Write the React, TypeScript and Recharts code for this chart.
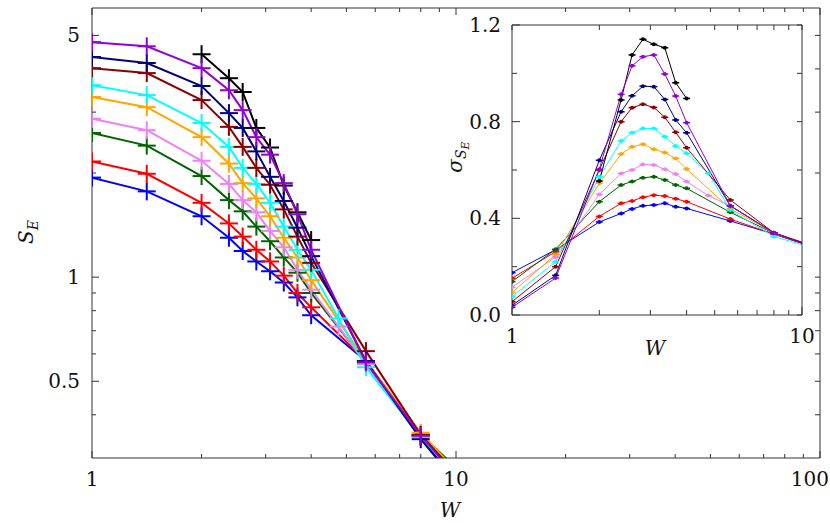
import { LineChart, Line, XAxis, YAxis } from 'recharts';

const FONT = 'DejaVu Serif';
const FRAME = '#333';

// disorder strengths W = 2^(k/8)
const W_VALUES = [1, 1.414, 2, 2.378, 2.594, 2.828, 3.084, 3.364, 3.668, 4, 4.757, 5.657, 8, 11.31];

const COLORS = ['#0000ff', '#ff0000', '#006400', '#ee82ee', '#ffa500', '#00ffff', '#8b0000', '#000080', '#000000', '#9400d3'];

// main panel: S_E (null = no point at that W)
const SE_BLUE = [1.94, 1.77, 1.5, 1.3, 1.19, 1.11, 1.04, 0.965, 0.874, 0.776, null, 0.572, 0.345, 0.22];
const SE_RED = [2.16, 1.99, 1.64, 1.43, 1.31, 1.2, 1.11, 1.01, 0.9, 0.818, null, 0.572, 0.348, 0.23];
const SE_GREEN = [2.61, 2.4, 1.96, 1.67, 1.55, 1.4, 1.27, 1.14, 1.03, 0.9, null, 0.567, 0.35, 0.25];
const SE_PINK = [2.87, 2.66, 2.17, 1.86, 1.67, 1.54, 1.36, 1.22, 1.05, 0.92, 0.72, 0.56, 0.348, 0.235];
const SE_ORANGE = [3.32, 3.1, 2.54, 2.13, 1.87, 1.69, 1.5, 1.3, 1.14, 0.98, null, 0.572, 0.355, 0.24];
const SE_CYAN = [3.59, 3.36, 2.79, 2.38, 2.07, 1.86, 1.64, 1.4, 1.2, 1.05, 0.76, 0.549, 0.345, 0.23];
const SE_DARKRED = [4.02, 3.89, 3.25, 2.72, 2.38, 2.07, 1.85, 1.57, 1.31, 1.1, null, 0.611, 0.35, 0.235];
const SE_NAVY = [4.33, 4.16, 3.57, 2.98, 2.7, 2.31, 1.95, 1.66, 1.39, 1.15, null, 0.572, 0.34, 0.22];
const SE_BLACK = [null, null, 4.41, 3.76, 3.43, 2.7, 2.37, 1.84, 1.54, 1.28, null, null, null, null];
const SE_PURPLE = [4.78, 4.65, 4.02, 3.47, 3.04, 2.54, 2.26, 1.87, 1.52, 1.2, null, 0.567, 0.348, 0.23];

// inset: sigma of S_E
const SIG_BLUE = [0.175, 0.27, 0.385, 0.42, 0.439, 0.452, 0.455, 0.462, 0.448, 0.441, null, 0.389, 0.335, 0.275];
const SIG_RED = [0.152, 0.262, 0.408, 0.462, 0.472, 0.487, 0.496, 0.492, 0.481, 0.469, null, 0.397, 0.335, 0.275];
const SIG_GREEN = [0.138, 0.272, 0.469, 0.538, 0.552, 0.568, 0.572, 0.559, 0.538, 0.524, null, 0.425, 0.338, 0.278];
const SIG_PINK = [0.115, 0.24, 0.499, 0.586, 0.6, 0.623, 0.621, 0.603, 0.583, 0.552, 0.494, 0.452, 0.338, 0.278];
const SIG_ORANGE = [0.093, 0.25, 0.545, 0.666, 0.696, 0.707, 0.686, 0.672, 0.648, 0.604, null, 0.44, 0.34, 0.28];
const SIG_CYAN = [0.076, 0.22, 0.572, 0.72, 0.754, 0.772, 0.772, 0.738, 0.699, 0.669, 0.586, 0.434, 0.325, 0.272];
const SIG_DARKRED = [0.055, 0.2, 0.6, 0.8, 0.858, 0.872, 0.859, 0.818, 0.756, 0.692, null, 0.476, 0.34, 0.28];
const SIG_NAVY = [0.04, 0.164, 0.64, 0.841, 0.907, 0.947, 0.945, 0.892, 0.807, 0.754, null, 0.452, 0.34, 0.275];
const SIG_BLACK = [null, null, 0.554, 0.89, 1.076, 1.141, 1.12, 1.106, 0.961, 0.896, null, null, null, null];
const SIG_PURPLE = [0.032, 0.153, 0.603, 0.913, 1.031, 1.069, 1.076, 0.997, 0.906, 0.796, null, 0.452, 0.34, 0.275];

const SE_SERIES = [SE_BLUE, SE_RED, SE_GREEN, SE_PINK, SE_ORANGE, SE_CYAN, SE_DARKRED, SE_NAVY, SE_BLACK, SE_PURPLE];
const SIG_SERIES = [SIG_BLUE, SIG_RED, SIG_GREEN, SIG_PINK, SIG_ORANGE, SIG_CYAN, SIG_DARKRED, SIG_NAVY, SIG_BLACK, SIG_PURPLE];

const MAIN_X_TICKS = [1, 2, 3, 4, 5, 6, 7, 8, 9, 10, 20, 30, 40, 50, 60, 70, 80, 90, 100];
const MAIN_X_LABELS = [1, 10, 100];
const MAIN_Y_TICKS = [0.4, 0.5, 0.6, 0.7, 0.8, 0.9, 1, 2, 3, 4, 5];
const MAIN_Y_LABELS = [0.5, 1, 5];
const INSET_X_TICKS = [1, 2, 3, 4, 5, 6, 7, 8, 9, 10];
const INSET_X_LABELS = [1, 10];
const INSET_Y_TICKS = [0, 0.2, 0.4, 0.6, 0.8, 1.0, 1.2];
const INSET_Y_LABELS = [0, 0.4, 0.8, 1.2];

const toPoints = (vals: (number | null)[]) =>
  W_VALUES.map((w, i) => ({ w, v: vals[i] })).filter((p) => p.v != null);

const PlusDot = ({ cx, cy, c }: any) => {
  if (cx == null || cy == null) return null;
  return (
    <g>
      <line x1={cx - 9} x2={cx + 9} y1={cy} y2={cy} stroke={c} strokeWidth={2} />
      <line x1={cx} x2={cx} y1={cy - 9} y2={cy + 9} stroke={c} strokeWidth={2} />
    </g>
  );
};

const SmallDot = ({ cx, cy, c }: any) => {
  if (cx == null || cy == null) return null;
  return (
    <g>
      <line x1={cx - 3.5} x2={cx + 3.5} y1={cy} y2={cy} stroke={c} strokeWidth={1.5} />
      <circle cx={cx} cy={cy} r={2} fill={c} />
    </g>
  );
};

const txtStyle = { fontFamily: FONT, fontSize: 20 };

// tick marks point into the plot; labels only on the major values
const BottomTick = ({ x, y, payload, major, len, fmt, lastEnd }: any) => {
  const isMajor = major.includes(payload.value);
  const atEnd = lastEnd && payload.value === major[major.length - 1];
  return (
    <g>
      <line x1={x} x2={x} y1={y} y2={y - (isMajor ? len + 3 : len)} stroke={FRAME} />
      {isMajor && (
        <text
          x={atEnd ? lastEnd : x}
          y={y + 28}
          textAnchor={atEnd ? 'end' : 'middle'}
          fill="#111"
          style={txtStyle}
        >
          {fmt(payload.value)}
        </text>
      )}
    </g>
  );
};

const TopTick = ({ x, y, payload, major, len }: any) => {
  const isMajor = major.includes(payload.value);
  return <line x1={x} x2={x} y1={y} y2={y + (isMajor ? len + 3 : len)} stroke={FRAME} />;
};

const LeftTick = ({ x, y, payload, major, len, fmt, gap }: any) => {
  const isMajor = major.includes(payload.value);
  return (
    <g>
      <line x1={x} x2={x + (isMajor ? len + 3 : len)} y1={y} y2={y} stroke={FRAME} />
      {isMajor && (
        <text x={x - gap} y={y + 7} textAnchor="end" fill="#111" style={txtStyle}>
          {fmt(payload.value)}
        </text>
      )}
    </g>
  );
};

const RightTick = ({ x, y, len }: any) => <line x1={x} x2={x - len} y1={y} y2={y} stroke={FRAME} />;

const italic = { ...txtStyle, fontStyle: 'italic' };

const MainXTitle = () => (
  <text x={450} y={517} textAnchor="middle" fill="#111" style={italic}>
    W
  </text>
);

const MainYTitle = () => (
  <g transform="translate(33,232) rotate(-90)">
    <text x={0} y={0} textAnchor="middle" fill="#111" style={italic}>
      S
      <tspan fontSize={14} dy={5}>
        E
      </tspan>
    </text>
  </g>
);

const InsetXTitle = () => (
  <text x={215} y={355} textAnchor="middle" fill="#111" style={italic}>
    W
  </text>
);

const InsetYTitle = () => (
  <g transform="translate(22,157) rotate(-90)">
    <text x={0} y={0} textAnchor="middle" fill="#111" style={italic}>
      σ
      <tspan fontSize={14} dy={4}>
        S
      </tspan>
      <tspan fontSize={11} dy={3}>
        E
      </tspan>
    </text>
  </g>
);

const fmtPlain = (v: number) => String(v);
const fmtOne = (v: number) => v.toFixed(1);

export default function App() {
  return (
    <div style={{ position: 'absolute', left: 0, top: 0, width: 830, height: 523, background: '#fff' }}>
      {/* main panel */}
      <div style={{ position: 'absolute', left: 0, top: 0 }}>
        <LineChart width={830} height={523} margin={{ top: 7, right: 9, bottom: 0, left: 0 }}>
          <XAxis
            xAxisId="b"
            dataKey="w"
            type="number"
            scale="log"
            domain={[1, 100]}
            allowDataOverflow
            ticks={MAIN_X_TICKS}
            interval={0}
            height={65}
            tickSize={0}
            tickMargin={0}
            tickLine={false}
            axisLine={{ stroke: FRAME }}
            tick={<BottomTick major={MAIN_X_LABELS} len={4} fmt={fmtPlain} lastEnd={829} />}
            label={<MainXTitle />}
          />
          <XAxis
            xAxisId="t"
            dataKey="w"
            orientation="top"
            type="number"
            scale="log"
            domain={[1, 100]}
            allowDataOverflow
            ticks={MAIN_X_TICKS}
            interval={0}
            height={1}
            tickSize={0}
            tickMargin={0}
            tickLine={false}
            axisLine={{ stroke: FRAME }}
            tick={<TopTick major={MAIN_X_LABELS} len={4} />}
          />
          <YAxis
            yAxisId="l"
            type="number"
            scale="log"
            domain={[0.3, 6]}
            allowDataOverflow
            ticks={MAIN_Y_TICKS}
            interval={0}
            width={92}
            tickSize={0}
            tickMargin={0}
            tickLine={false}
            axisLine={{ stroke: FRAME }}
            tick={<LeftTick major={MAIN_Y_LABELS} len={4} fmt={fmtPlain} gap={12} />}
            label={<MainYTitle />}
          />
          <YAxis
            yAxisId="r"
            orientation="right"
            type="number"
            scale="log"
            domain={[0.3, 6]}
            allowDataOverflow
            ticks={MAIN_Y_TICKS}
            interval={0}
            width={1}
            tickSize={0}
            tickMargin={0}
            tickLine={false}
            axisLine={{ stroke: FRAME }}
            tick={<RightTick len={5} />}
          />
          {SE_SERIES.map((s, i) => (
            <Line
              key={i}
              xAxisId="b"
              yAxisId="l"
              data={toPoints(s)}
              dataKey="v"
              stroke={COLORS[i]}
              strokeWidth={2}
              dot={<PlusDot c={COLORS[i]} />}
              activeDot={false}
              isAnimationActive={false}
            />
          ))}
        </LineChart>
      </div>

      {/* inset */}
      <div style={{ position: 'absolute', left: 440, top: 0 }}>
        <LineChart width={390} height={370} margin={{ top: 24, right: 27, bottom: 0, left: 0 }}>
          <XAxis
            xAxisId="b"
            dataKey="w"
            type="number"
            scale="log"
            domain={[1, 10]}
            allowDataOverflow
            ticks={INSET_X_TICKS}
            interval={0}
            height={55}
            tickSize={0}
            tickMargin={0}
            tickLine={false}
            axisLine={{ stroke: FRAME }}
            tick={<BottomTick major={INSET_X_LABELS} len={5} fmt={fmtPlain} />}
            label={<InsetXTitle />}
          />
          <XAxis
            xAxisId="t"
            dataKey="w"
            orientation="top"
            type="number"
            scale="log"
            domain={[1, 10]}
            allowDataOverflow
            ticks={INSET_X_TICKS}
            interval={0}
            height={1}
            tickSize={0}
            tickMargin={0}
            tickLine={false}
            axisLine={{ stroke: FRAME }}
            tick={<TopTick major={[]} len={5} />}
          />
          <YAxis
            yAxisId="l"
            type="number"
            domain={[0, 1.2]}
            allowDataOverflow
            ticks={INSET_Y_TICKS}
            interval={0}
            width={72}
            tickSize={0}
            tickMargin={0}
            tickLine={false}
            axisLine={{ stroke: FRAME }}
            tick={<LeftTick major={INSET_Y_LABELS} len={5} fmt={fmtOne} gap={11} />}
            label={<InsetYTitle />}
          />
          <YAxis
            yAxisId="r"
            orientation="right"
            type="number"
            domain={[0, 1.2]}
            allowDataOverflow
            ticks={INSET_Y_TICKS}
            interval={0}
            width={1}
            tickSize={0}
            tickMargin={0}
            tickLine={false}
            axisLine={{ stroke: FRAME }}
            tick={<RightTick len={5} />}
          />
          {SIG_SERIES.map((s, i) => (
            <Line
              key={i}
              xAxisId="b"
              yAxisId="l"
              data={toPoints(s)}
              dataKey="v"
              stroke={COLORS[i]}
              strokeWidth={1}
              dot={<SmallDot c={COLORS[i]} />}
              activeDot={false}
              isAnimationActive={false}
            />
          ))}
        </LineChart>
      </div>
    </div>
  );
}
